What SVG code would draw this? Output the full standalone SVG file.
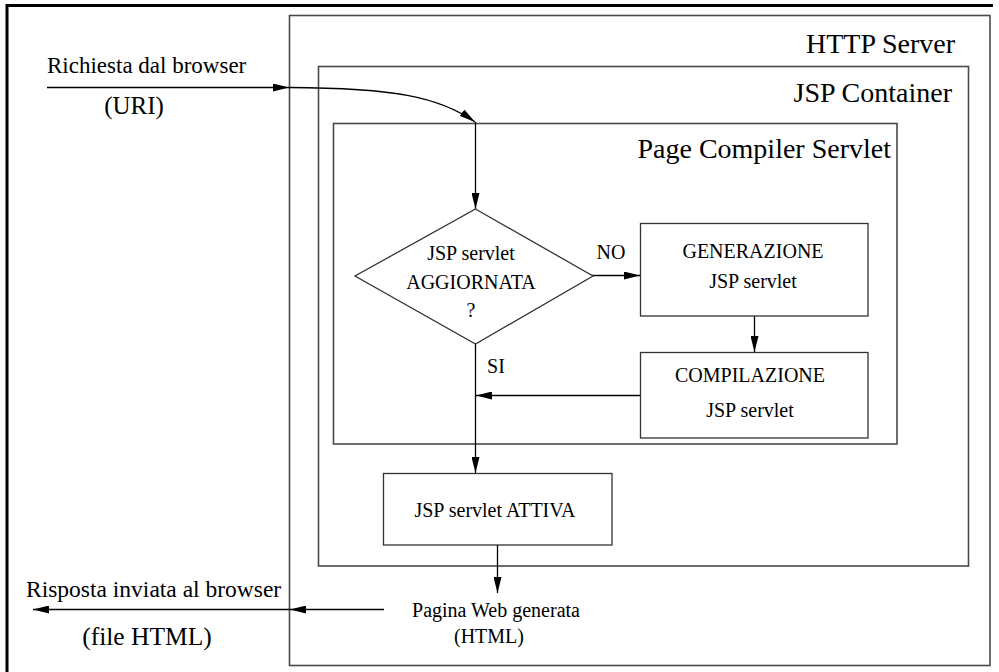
<svg xmlns="http://www.w3.org/2000/svg" width="999" height="672" viewBox="0 0 999 672">
<defs>
<style>
text{font-family:"Liberation Serif","Times New Roman",serif;fill:#000}
.frame{fill:none;stroke:#4a4a4a;stroke-width:1.6}
.box{fill:#fff;stroke:#333;stroke-width:1.3}
.conn{fill:none;stroke:#000;stroke-width:1.3}
.c20{font-size:20px;text-anchor:middle}
.title{font-size:28px;text-anchor:end}
</style>
<marker id="ah" markerUnits="userSpaceOnUse" viewBox="0 0 16 8" refX="16" refY="4" markerWidth="16" markerHeight="8" orient="auto">
<path d="M0,0 L16,4 L0,8 z" fill="#000"/>
</marker>
</defs>
<rect width="999" height="672" fill="#fff"/>
<path d="M7,672 V5.5 H993" fill="none" stroke="#000" stroke-width="3"/>

<g id="http-server">
<rect class="frame" x="289.5" y="15.5" width="700.5" height="650"/>
<text class="title" x="955" y="53">HTTP Server</text>
</g>
<g id="jsp-container">
<rect class="frame" x="318.5" y="66.5" width="650" height="499.5"/>
<text class="title" x="952" y="102">JSP Container</text>
</g>
<g id="page-compiler">
<rect class="frame" x="333.5" y="123.5" width="563.5" height="320.5"/>
<text class="title" x="891" y="158">Page Compiler Servlet</text>
</g>

<g id="connectors">
<line class="conn" x1="47" y1="87.5" x2="289" y2="87.5" marker-end="url(#ah)"/>
<path class="conn" d="M289,87.5 C395,88 440,97 475,122" marker-end="url(#ah)"/>
<line class="conn" x1="475.5" y1="122" x2="475.5" y2="209" marker-end="url(#ah)"/>
<line class="conn" x1="590" y1="275.5" x2="640" y2="275.5" marker-end="url(#ah)"/>
<line class="conn" x1="754.5" y1="316" x2="754.5" y2="352" marker-end="url(#ah)"/>
<line class="conn" x1="640" y1="395.5" x2="476" y2="395.5" marker-end="url(#ah)"/>
<line class="conn" x1="475.5" y1="344" x2="475.5" y2="473" marker-end="url(#ah)"/>
<line class="conn" x1="497.5" y1="545" x2="497.5" y2="593" marker-end="url(#ah)"/>
<line class="conn" x1="384" y1="609.5" x2="290" y2="609.5" marker-end="url(#ah)"/>
<line class="conn" x1="290" y1="609.5" x2="33" y2="609.5" marker-end="url(#ah)"/>
<text x="611" y="259" class="c20">NO</text>
<text x="496" y="373" class="c20">SI</text>
</g>

<g id="decision">
<polygon class="box" points="475.5,209 593,276 475.5,344 355,276"/>
<text x="471" y="260" class="c20">JSP servlet</text>
<text x="471" y="289" class="c20">AGGIORNATA</text>
<text x="471" y="317" class="c20">?</text>
</g>
<g id="generazione">
<rect class="box" x="640.5" y="223.5" width="227.5" height="92.5"/>
<text x="753" y="258" class="c20">GENERAZIONE</text>
<text x="753" y="288" class="c20">JSP servlet</text>
</g>
<g id="compilazione">
<rect class="box" x="640.5" y="352.5" width="227.5" height="85.5"/>
<text x="750" y="382" class="c20">COMPILAZIONE</text>
<text x="750" y="417" class="c20">JSP servlet</text>
</g>
<g id="attiva">
<rect class="box" x="383.5" y="473.5" width="228.5" height="71.5"/>
<text x="495" y="517" class="c20">JSP servlet ATTIVA</text>
</g>
<g id="pagina">
<text x="496" y="617" class="c20">Pagina Web generata</text>
<text x="489" y="643" class="c20">(HTML)</text>
</g>
<g id="richiesta">
<text x="47" y="73" font-size="23">Richiesta dal browser</text>
<text x="134" y="114" font-size="25" text-anchor="middle">(URI)</text>
</g>
<g id="risposta">
<text x="26" y="597" font-size="23.5">Risposta inviata al browser</text>
<text x="147" y="645" font-size="25.5" text-anchor="middle">(file HTML)</text>
</g>
</svg>
